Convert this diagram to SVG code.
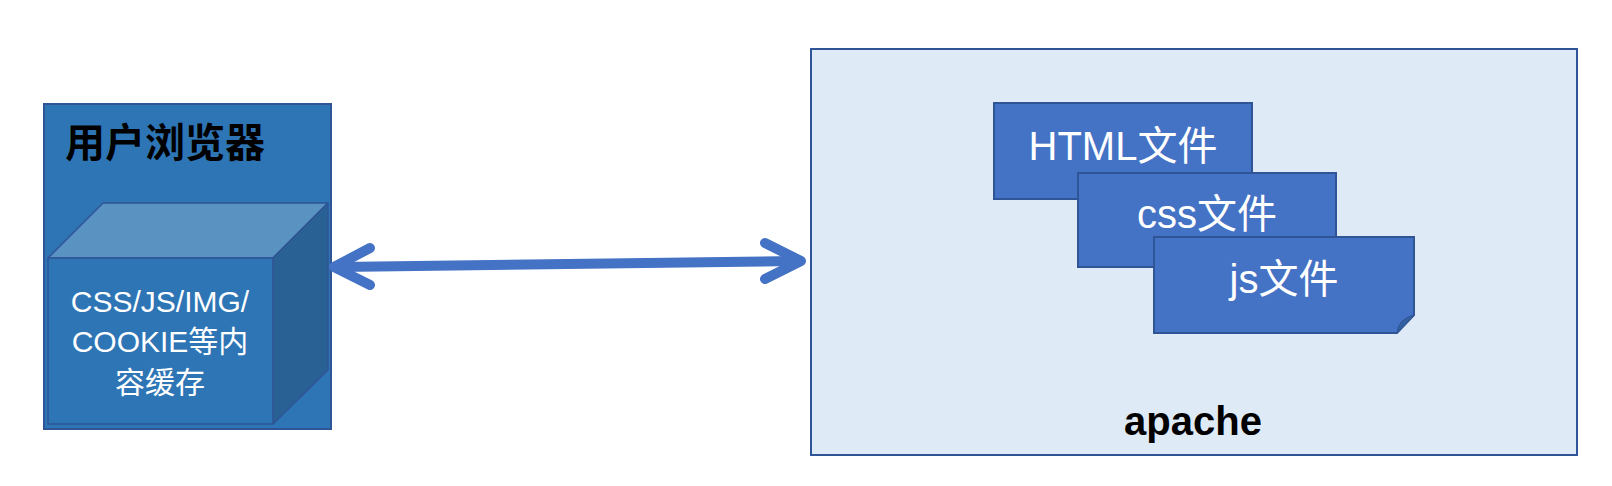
<svg xmlns="http://www.w3.org/2000/svg" width="1612" height="486" viewBox="0 0 1612 486">
<style>
.t{font-family:"Liberation Sans","Noto Sans CJK SC",sans-serif;}
.w{fill:#ffffff;}
.file{fill:#4472C4;stroke:#2F5597;stroke-width:2;}
.edge{stroke:#2F5597;stroke-width:1.5;stroke-linejoin:round;}
</style>
<rect width="1612" height="486" fill="#ffffff"/>
<g id="browser">
<rect x="44" y="104" width="287" height="325" fill="#2E75B6" stroke="#2F5597" stroke-width="2"/>
<text class="t" x="65" y="157" font-size="40" font-weight="bold" fill="#000000">用户浏览器</text>
</g>
<g id="cache">
<polygon class="edge" points="48,258 103,203 328,203 273,258" fill="#5A93C2"/>
<polygon class="edge" points="273,258 328,203 328,370 273,424" fill="#2A6195"/>
<rect class="edge" x="48" y="258" width="225" height="166" fill="#2E75B6"/>
<text class="t w" font-size="30" text-anchor="middle"><tspan x="160" y="312">CSS/JS/IMG/</tspan><tspan x="160" y="352">COOKIE等内</tspan><tspan x="160" y="393">容缓存</tspan></text>
</g>
<g id="apache">
<rect x="811" y="49" width="766" height="406" fill="#DEEBF7" stroke="#2F5597" stroke-width="2"/>
<text class="t" x="1193" y="435" font-size="40" font-weight="bold" fill="#000000" text-anchor="middle">apache</text>
</g>
<g id="html-file">
<rect class="file" x="994" y="103" width="258" height="96"/>
<text class="t w" x="1123" y="160" font-size="40" text-anchor="middle">HTML文件</text>
</g>
<g id="css-file">
<rect class="file" x="1078" y="173" width="258" height="94"/>
<text class="t w" x="1207" y="228" font-size="40" text-anchor="middle">css文件</text>
</g>
<g id="js-file">
<polygon class="file" points="1154,237 1414,237 1414,315 1397,333 1154,333"/>
<path d="M1397,333 Q1398,319 1414,315 Z" fill="#35609F" stroke="#2F5597" stroke-width="1"/>
<text class="t w" x="1284" y="293" font-size="40" text-anchor="middle">js文件</text>
</g>
<g id="connectors" fill="none" stroke="#4472C4" stroke-width="10" stroke-linecap="round" stroke-linejoin="round">
<line x1="340" y1="267" x2="795" y2="261"/>
<polyline points="370,248 334,267 370,285"/>
<polyline points="765,243 801,261 765,279"/>
</g>
</svg>
